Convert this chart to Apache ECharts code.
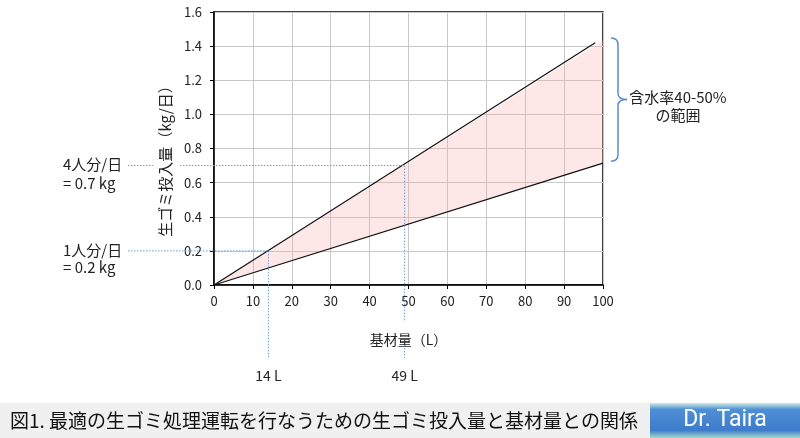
<!DOCTYPE html>
<html><head><meta charset="utf-8">
<script src="https://cdn.jsdelivr.net/npm/echarts@6/dist/echarts.min.js"></script>
<style>html,body{margin:0;padding:0;background:#fff}#c{width:800px;height:438px}</style>
</head><body><div id="c"></div>
<script>
// ---- data ----
const bandX = [0, 100];
const bandLower = [0, 0.714];
const bandUpper = [0, 1.434];
const upperLineX = [0, 98];
const upperLineY = [0, 1.42];
const lowerLineX = [0, 100];
const lowerLineY = [0, 0.714];
const xAxisRange = [0, 100, 10];
const yAxisRange = [0, 1.6, 0.2];
const braceRange = [1.448, 0.725];
const refX = [14, 49];
const refY = [0.2, 0.7];
const refPersonLabels = ['1人分/日', '4人分/日'];
const refKgLabels = ['= 0.2 kg', '= 0.7 kg'];
const refLiterLabels = ['14 L', '49 L'];
const rangeLabel = ['含水率40-50%', 'の範囲'];
const xName = '基材量（L）';
const yName = '生ゴミ投入量（kg/日）';
const titleText = '図1. 最適の生ゴミ処理運転を行なうための生ゴミ投入量と基材量との関係';
const badgeText = 'Dr. Taira';

const FONT = '"Noto Sans CJK JP", "Noto Sans", sans-serif';
const chart = echarts.init(document.getElementById('c'));

chart.setOption({
  animation: false,
  textStyle: { fontFamily: FONT },
  grid: { left: 214, right: 197, top: 12, bottom: 153, show: true, borderColor: '#000', borderWidth: 1.5, backgroundColor: 'transparent' },
  xAxis: {
    type: 'value', min: xAxisRange[0], max: xAxisRange[1], interval: xAxisRange[2],
    name: xName, nameLocation: 'middle', nameGap: 48,
    nameTextStyle: { fontSize: 14, color: '#222', fontFamily: FONT },
    axisLine: { lineStyle: { color: '#000', width: 1.5 } },
    axisTick: { show: true, length: 4, lineStyle: { color: '#000' } },
    axisLabel: { fontSize: 13, color: '#222', margin: 10, fontFamily: FONT },
    splitLine: { show: true, lineStyle: { color: '#c8c8c8', width: 1 } }
  },
  yAxis: {
    type: 'value', min: yAxisRange[0], max: yAxisRange[1], interval: yAxisRange[2],
    name: yName, nameLocation: 'middle', nameGap: 41, nameRotate: 90,
    nameTextStyle: { fontSize: 15, color: '#222', fontFamily: FONT, padding: [0, 18, 0, 0] },
    axisLine: { show: true, lineStyle: { color: '#000', width: 1.5 } },
    axisTick: { show: true, length: 4, lineStyle: { color: '#000' } },
    axisLabel: { fontSize: 13, color: '#222', margin: 12, fontFamily: FONT, formatter: v => v.toFixed(1) },
    splitLine: { show: true, lineStyle: { color: '#c8c8c8', width: 1 } }
  },
  series: [
    { type: 'custom', silent: true, z: 1,
      data: bandX.map((x, i) => [x, bandLower[i], bandUpper[i]]),
      renderItem: (params, api) => {
        if (params.dataIndex !== 0) return null;
        const pts = [];
        bandX.forEach((x, i) => pts.push(api.coord([x, bandUpper[i]])));
        for (let i = bandX.length - 1; i >= 0; i--) pts.push(api.coord([bandX[i], bandLower[i]]));
        return { type: 'polygon', shape: { points: pts }, style: { fill: 'rgba(248,170,170,0.28)' } };
      } },
    { type: 'line', symbol: 'none', silent: true, z: 5,
      data: upperLineX.map((x, i) => [x, upperLineY[i]]), lineStyle: { color: '#111', width: 1.2 } },
    { type: 'line', symbol: 'none', silent: true, z: 5,
      data: lowerLineX.map((x, i) => [x, lowerLineY[i]]), lineStyle: { color: '#111', width: 1.2 } }
  ]
});

const P = (x, y) => chart.convertToPixel({ gridIndex: 0 }, [x, y]);
const origin = P(0, 0);
const axisX = origin[0], axisY = origin[1];
const rightX = P(xAxisRange[1], 0)[0];
const dotStyle = { stroke: '#6a9fd8', lineWidth: 1, lineDash: [1.5, 1.5] };
const g = [];
const seg = (x1, y1, x2, y2) => g.push({ type: 'line', shape: { x1, y1, x2, y2 }, style: dotStyle, silent: true, z: 10 });
const txt = (text, x, y, opts) => g.push({ type: 'text', x, y, silent: true, z: 20,
  style: Object.assign({ text, fill: '#222', font: '15px ' + FONT, align: 'left', verticalAlign: 'middle' }, opts || {}) });

refX.forEach((rx, i) => {
  const p = P(rx, refY[i]);
  const startX = axisX - 86;
  if (i === 1) {
    seg(startX, p[1], axisX - 61, p[1]);
    seg(axisX - 34, p[1], p[0], p[1]);
  } else {
    seg(startX, p[1], p[0], p[1]);
  }
  const bottom = axisY + 73;
  if (i === 1) {
    seg(p[0], p[1], p[0], axisY + 37);
    seg(p[0], axisY + 60, p[0], bottom);
  } else {
    seg(p[0], p[1], p[0], bottom);
  }
  txt(refPersonLabels[i], axisX - 151, p[1] - 1);
  txt(refKgLabels[i], axisX - 151, p[1] + 18 - (i === 0 ? 2 : 0));
  txt(refLiterLabels[i], p[0], axisY + 91, { align: 'center', font: '14px ' + FONT });
});

// brace
const bt = P(100, braceRange[0])[1], bb = P(100, braceRange[1])[1];
const bm = (bt + bb) / 2;
const sx = rightX + 15, lx = rightX + 8, tx = rightX + 24;
const braceStyle = { stroke: '#5b8ac8', lineWidth: 1.5, fill: null };
const curve = (x1, y1, cx, cy, x2, y2) => g.push({ type: 'bezierCurve', silent: true, z: 10,
  shape: { x1, y1, x2, y2, cpx1: cx, cpy1: cy }, style: braceStyle });
const bline = (x1, y1, x2, y2) => g.push({ type: 'line', silent: true, z: 10, shape: { x1, y1, x2, y2 }, style: braceStyle });
curve(lx, bt, sx, bt, sx, bt + 7);
bline(sx, bt + 7, sx, bm - 6);
curve(sx, bm - 6, sx, bm, tx, bm);
curve(tx, bm, sx, bm, sx, bm + 6);
bline(sx, bm + 6, sx, bb - 7);
curve(sx, bb - 7, sx, bb, lx, bb);
txt(rangeLabel[0], rightX + 75, bm - 2, { align: 'center' });
txt(rangeLabel[1], rightX + 75, bm + 16, { align: 'center' });

// footer banner
g.push({ type: 'rect', shape: { x: 0, y: 403, width: 650, height: 35 }, style: { fill: '#f0f0f0' }, silent: true });
g.push({ type: 'rect', shape: { x: 650, y: 403, width: 150, height: 35 }, silent: true,
  style: { fill: { type: 'linear', x: 0, y: 0, x2: 0, y2: 1, colorStops: [
    { offset: 0, color: '#cdeee0' }, { offset: 0.18, color: '#4f8fd6' },
    { offset: 0.78, color: '#3d7ccc' }, { offset: 1, color: '#a6dcc8' }] } } });
txt(titleText, 10, 421, { font: '19px ' + FONT, fill: '#111' });
txt(badgeText, 725, 420, { align: 'center', font: '23px "Liberation Sans Narrow", "Roboto", sans-serif', fill: '#fff' });

chart.setOption({ graphic: g });
</script>
</body></html>
